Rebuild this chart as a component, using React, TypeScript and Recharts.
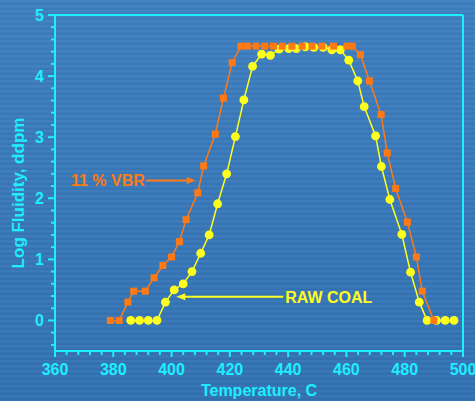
import React from "react";
import {
  LineChart,
  Line,
  XAxis,
  YAxis,
  ReferenceLine,
  ReferenceDot,
} from "recharts";

// 11 % VBR blend (orange squares)
const vbrTemp = [
  379, 382, 385, 387, 391, 394, 397, 400, 402.7, 405, 409, 411, 415, 417.8, 420.8,
  423.8, 426, 429, 432, 435, 438, 441.3, 444.8, 448.2, 451.6, 455.6, 460.2, 462,
  464.8, 467.9, 471.9, 474, 476.9, 480.9, 484, 486, 490,
];
const vbrFluidity = [
  0, 0, 0.3, 0.48, 0.48, 0.7, 0.9, 1.04, 1.29, 1.65, 2.09, 2.53, 3.05, 3.64, 4.22,
  4.49, 4.49, 4.49, 4.49, 4.49, 4.49, 4.49, 4.49, 4.49, 4.49, 4.49, 4.49, 4.49,
  4.35, 3.92, 3.37, 2.74, 2.16, 1.61, 1.04, 0.48, 0,
];

// raw coal (yellow circles)
const rawTemp = [
  386, 389, 392, 395, 397.9, 400.9, 404, 407, 410, 412.9, 415.8, 418.9, 421.9,
  424.8, 427.8, 430.9, 433.9, 436.9, 440.2, 442.8, 445.9, 448.8, 452, 455, 457.9,
  460.8, 463.9, 466.1, 470, 472, 474.9, 479, 482, 485, 487.7, 490.9, 493.9, 496.9,
];
const rawFluidity = [
  0, 0, 0, 0, 0.3, 0.5, 0.6, 0.8, 1.1, 1.4, 1.91, 2.4, 3.01, 3.61, 4.16, 4.36, 4.34,
  4.44, 4.45, 4.45, 4.48, 4.47, 4.47, 4.43, 4.43, 4.26, 3.92, 3.5, 3.02, 2.52,
  1.98, 1.41, 0.79, 0.3, 0, 0, 0, 0,
];

const xMajorTicks = [360, 380, 400, 420, 440, 460, 480, 500];
const yMajorTicks = [0, 1, 2, 3, 4, 5];

const vbrSeries = vbrTemp.map((t, i) => ({ t, v: vbrFluidity[i] }));
const rawSeries = rawTemp.map((t, i) => ({ t, v: rawFluidity[i] }));

// minor ticks: every 4 C and every 0.2 log units
const xTicks: number[] = [];
for (let t = 360; t <= 500; t += 4) xTicks.push(t);
const yTicks: number[] = [];
for (let k = -2; k <= 25; k++) yTicks.push(k / 5);

const CYAN = "#1eeeff";
const ORANGE = "#ff7a14";
const YELLOW = "#ffff1e";
const FONT = "'Liberation Sans', Arial, sans-serif";

const isMajor = (v: number) => Math.abs(v - Math.round(v)) < 1e-6;

const XTick = (props: any) => {
  const { x, y, payload } = props;
  const major = xMajorTicks.includes(payload.value);
  return (
    <g>
      <line x1={x} y1={y} x2={x} y2={y + (major ? 6 : 4)} stroke={CYAN} strokeWidth={2} />
      {major && (
        <text x={x} y={y + 24} textAnchor="middle" fill={CYAN} fontSize={16} fontWeight="bold" fontFamily={FONT}>
          {payload.value}
        </text>
      )}
    </g>
  );
};

const YTick = (props: any) => {
  const { x, y, payload } = props;
  const major = isMajor(payload.value);
  const showLabel = major && yMajorTicks.includes(Math.round(payload.value));
  return (
    <g>
      <line x1={x} y1={y} x2={x - (major ? 7 : 4)} y2={y} stroke={CYAN} strokeWidth={2} />
      {showLabel && (
        <text x={x - 11} y={y} dy="0.36em" textAnchor="end" fill={CYAN} fontSize={16} fontWeight="bold" fontFamily={FONT}>
          {Math.round(payload.value)}
        </text>
      )}
    </g>
  );
};

const RightTick = (props: any) => {
  const { x, y } = props;
  return <line x1={x} y1={y} x2={x + 3} y2={y} stroke={CYAN} strokeWidth={2} />;
};

const Square = (props: any) => {
  const { cx, cy } = props;
  if (cx == null || cy == null) return null;
  return <rect x={cx - 3.5} y={cy - 3.5} width={7} height={7} fill={ORANGE} />;
};

const Circle = (props: any) => {
  const { cx, cy } = props;
  if (cx == null || cy == null) return null;
  return <circle cx={cx} cy={cy} r={4.4} fill={YELLOW} />;
};

const Arrow = (color: string, side: "left" | "right") => (props: any) => {
  const { cx, cy } = props;
  if (side === "right") {
    return <polygon points={`${cx},${cy} ${cx - 9},${cy - 3.5} ${cx - 9},${cy + 3.5}`} fill={color} />;
  }
  return <polygon points={`${cx},${cy} ${cx + 9},${cy - 3.5} ${cx + 9},${cy + 3.5}`} fill={color} />;
};

const TextMark = (color: string, text: string, anchor: string) => (props: any) => {
  const { cx, cy } = props;
  return (
    <text x={cx} y={cy} dy="0.36em" textAnchor={anchor} fill={color} fontSize={16} fontWeight="bold" fontFamily={FONT}>
      {text}
    </text>
  );
};

const YTitle = (props: any) => {
  const { viewBox } = props;
  const cx = 18;
  const cy = viewBox.y + viewBox.height / 2 + 10;
  return (
    <text x={cx} y={cy} transform={`rotate(-90, ${cx}, ${cy})`} textAnchor="middle" dy="0.36em" fill={CYAN} fontSize={17} fontWeight="bold" fontFamily={FONT}>
      Log Fluidity, ddpm
    </text>
  );
};

const XTitle = (props: any) => {
  const { viewBox } = props;
  return (
    <text x={viewBox.x + viewBox.width / 2} y={viewBox.y + 45} textAnchor="middle" fill={CYAN} fontSize={16} fontWeight="bold" fontFamily={FONT}>
      Temperature, C
    </text>
  );
};

export default function App() {
  return (
    <div
      style={{
        position: "absolute",
        left: 0,
        top: 0,
        width: 475,
        height: 401,
        background:
          "repeating-linear-gradient(180deg, rgba(255,255,255,0.03) 0px, rgba(255,255,255,0.03) 2px, rgba(0,0,0,0.03) 3px, rgba(0,0,0,0.03) 5px), linear-gradient(180deg, #3f80c0 0%, #3878ba 50%, #3272b4 100%)",
      }}
    >
      <LineChart width={475} height={401} margin={{ top: 15, right: 0, bottom: 0, left: 0 }}>
        <XAxis
          dataKey="t"
          type="number"
          domain={[360, 500]}
          ticks={xTicks}
          interval={0}
          tick={<XTick />}
          tickLine={false}
          tickSize={0}
          tickMargin={0}
          axisLine={{ stroke: CYAN, strokeWidth: 2 }}
          height={50}
          allowDuplicatedCategory={false}
          label={<XTitle />}
        />
        <YAxis
          yAxisId="left"
          type="number"
          domain={[-0.5, 5]}
          ticks={yTicks}
          interval={0}
          tick={<YTick />}
          tickLine={false}
          tickSize={0}
          tickMargin={0}
          axisLine={{ stroke: CYAN, strokeWidth: 2 }}
          width={55}
          label={<YTitle />}
        />
        <YAxis
          yAxisId="right"
          orientation="right"
          type="number"
          domain={[-0.5, 5]}
          ticks={yTicks}
          interval={0}
          tick={<RightTick />}
          tickLine={false}
          tickSize={0}
          tickMargin={0}
          axisLine={{ stroke: CYAN, strokeWidth: 2 }}
          width={12}
        />
        <ReferenceLine yAxisId="left" y={5} stroke={CYAN} strokeWidth={2} ifOverflow="visible" />

        <Line
          yAxisId="left"
          data={rawSeries}
          dataKey="v"
          type="linear"
          stroke={YELLOW}
          strokeWidth={1.5}
          dot={<Circle />}
          activeDot={false}
          isAnimationActive={false}
        />
        <Line
          yAxisId="left"
          data={vbrSeries}
          dataKey="v"
          type="linear"
          stroke={ORANGE}
          strokeWidth={1.5}
          dot={<Square />}
          activeDot={false}
          isAnimationActive={false}
        />

        {/* 11 % VBR annotation */}
        <ReferenceLine
          yAxisId="left"
          segment={[{ x: 391.3, y: 2.29 }, { x: 406, y: 2.29 }]}
          stroke={ORANGE}
          strokeWidth={2}
        />
        <ReferenceDot yAxisId="left" x={408.3} y={2.29} shape={Arrow(ORANGE, "right")} />
        <ReferenceDot yAxisId="left" x={390.8} y={2.29} shape={TextMark(ORANGE, "11 % VBR", "end")} />

        {/* RAW COAL annotation */}
        <ReferenceLine
          yAxisId="left"
          segment={[{ x: 404, y: 0.386 }, { x: 438.3, y: 0.386 }]}
          stroke={YELLOW}
          strokeWidth={2}
        />
        <ReferenceDot yAxisId="left" x={401.6} y={0.386} shape={Arrow(YELLOW, "left")} />
        <ReferenceDot yAxisId="left" x={439} y={0.386} shape={TextMark(YELLOW, "RAW COAL", "start")} />
      </LineChart>
    </div>
  );
}
